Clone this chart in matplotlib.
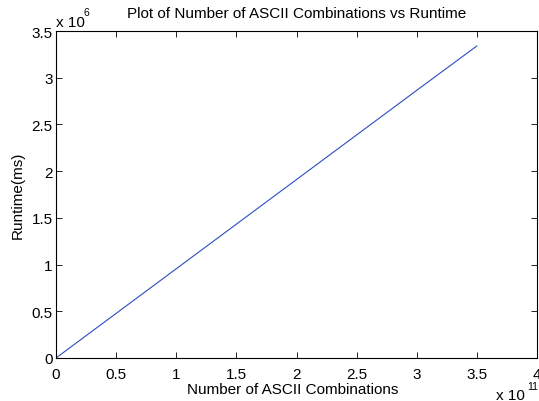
import matplotlib
matplotlib.use("Agg")
import matplotlib.pyplot as plt

combinations = [0, 1.0e11, 2.0e11, 3.0e11, 3.5e11]
runtime_ms = [0, 0.955e6, 1.91e6, 2.865e6, 3.34e6]
xticks = [0, 0.5, 1, 1.5, 2, 2.5, 3, 3.5, 4]
yticks = [0, 0.5, 1, 1.5, 2, 2.5, 3, 3.5]

W, H = 539, 402
FS = 11
plt.rcParams['font.family'] = ['Liberation Sans', 'DejaVu Sans']
fig = plt.figure(figsize=(W/100, H/100), dpi=100)
ax = fig.add_axes([56/W, 1 - 359/H, (537-56)/W, (359-32)/H])
ax.plot([c / 1e11 for c in combinations], [r / 1e6 for r in runtime_ms],
        color='#2a4fc0', lw=0.8)
ax.set_xlim(0, 4)
ax.set_ylim(0, 3.5)
ax.set_xticks(xticks)
ax.set_yticks(yticks)
ax.set_xticklabels([f"{t:g}" for t in xticks])
ax.set_yticklabels([f"{t:g}" for t in yticks])
ax.tick_params(direction='in', top=True, right=True, labelsize=FS, length=4,
               width=0.6, colors='black')
ax.tick_params(axis='x', pad=6.5)
ax.tick_params(axis='y', pad=2.5)
for s in ax.spines.values():
    s.set_linewidth(0.8)
ax.set_title("Plot of Number of ASCII Combinations vs Runtime", fontsize=FS, pad=10)
ax.set_ylabel("Runtime(ms)", fontsize=FS)
ax.yaxis.set_label_coords(-0.0645, 0.5)

def ftxt(x, y, s, **kw):
    fig.text(x / W, 1 - y / H, s, **kw)

ftxt(293, 394, "Number of ASCII Combinations", fontsize=FS, ha='center', va='baseline')
# exponent labels (MATLAB style)
ftxt(56, 27, "x 10", fontsize=FS, ha='left', va='baseline')
ftxt(84, 16.5, "6", fontsize=7.5, ha='left', va='baseline')
ftxt(525, 400, "x 10", fontsize=FS, ha='right', va='baseline')
ftxt(527, 390.5, "11", fontsize=7.5, ha='left', va='baseline')
fig.savefig("out.png", dpi=100)
